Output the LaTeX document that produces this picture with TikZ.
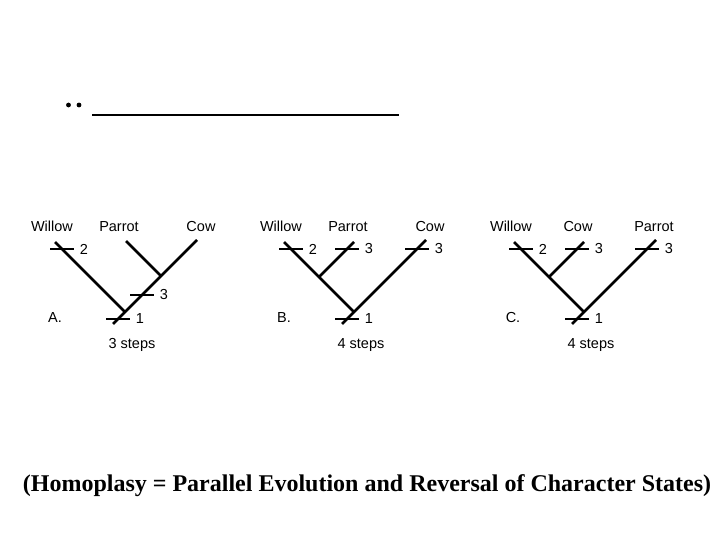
\documentclass[tikz,border=0pt]{standalone}
\usepackage{fontspec}
\setmainfont{Liberation Serif}
\setsansfont{Liberation Sans}

\def\sc{1pt}
\def\brw{2.7pt}
\def\tw{12pt}
\def\rightsh{229}
\def\sans{\sffamily\fontsize{14.5}{16}\selectfont}

\newcommand{\brtick}[2]{\draw [branch] ([xshift=-\tw]#1) -- ([xshift=\tw]#1) node [ticklab] {#2};}

\tikzset{
  branch/.style={line width=\brw},
  ticklab/.style={anchor=west, inner sep=0pt, xshift=4.5pt, font=\sans},
  taxon/.style={anchor=base, inner sep=0pt, font=\sans}
}

\begin{document}
\begin{tikzpicture} [x=\sc, y=-\sc]
\useasboundingbox (0,0) rectangle (720,540);
% heading
\fill (68.5,105) circle (2.4) (79,105) circle (2.4);
\draw [line width=2pt] (92,115) -- (399,115);
% tree A
\begin{scope}
  \coordinate (root) at (113,324);
  \coordinate (fork) at (125,312);
  \coordinate (willow) at (55,242);
  \coordinate (cow) at (197,240);
  \coordinate (mid) at (161,276);
  \coordinate (parrot) at (126,241);
  \draw [branch] (root) -- (cow);
  \draw [branch] (fork) -- (willow);
  \draw [branch] (mid) -- (parrot);
  \brtick{62,249}{2}
  \brtick{142,295}{3}
  \brtick{118,319}{1}
  \node [taxon] (tw) at (52,231) {Willow};
  \node [taxon] (tp) at (119,231) {Parrot};
  \node [taxon] (tc) at (201,231) {Cow};
  \node [taxon] (lab) at (55,322) {A.};
  \node [taxon] (steps) at (132,348) {3 steps};
\end{scope}
% tree B
\begin{scope} [shift={(\rightsh,0)}]
  \coordinate (root) at (113,324);
  \coordinate (fork) at (125,312);
  \coordinate (willow) at (55,242);
  \coordinate (cow) at (197,240);
  \coordinate (mid) at (90,277);
  \coordinate (parrot) at (125,242);
  \draw [branch] (root) -- (cow);
  \draw [branch] (fork) -- (willow);
  \draw [branch] (mid) -- (parrot);
  \brtick{62,249}{2}
  \brtick{118,249}{3}
  \brtick{188,249}{3}
  \brtick{118,319}{1}
  \node [taxon] (tw) at (52,231) {Willow};
  \node [taxon] (tp) at (119,231) {Parrot};
  \node [taxon] (tc) at (201,231) {Cow};
  \node [taxon] (lab) at (55,322) {B.};
  \node [taxon] (steps) at (132,348) {4 steps};
\end{scope}
% tree C
\begin{scope} [shift={(2*\rightsh+1,0)}]
  \coordinate (root) at (113,324);
  \coordinate (fork) at (125,312);
  \coordinate (willow) at (55,242);
  \coordinate (parrot) at (197,240);
  \coordinate (mid) at (90,277);
  \coordinate (cow) at (125,242);
  \draw [branch] (root) -- (parrot);
  \draw [branch] (fork) -- (willow);
  \draw [branch] (mid) -- (cow);
  \brtick{62,249}{2}
  \brtick{118,249}{3}
  \brtick{188,249}{3}
  \brtick{118,319}{1}
  \node [taxon] (tw) at (52,231) {Willow};
  \node [taxon] (tc) at (119,231) {Cow};
  \node [taxon] (tp) at (195,231) {Parrot};
  \node [taxon] (lab) at (54,322) {C.};
  \node [taxon] (steps) at (132,348) {4 steps};
\end{scope}
% caption
\node [anchor=base, inner sep=0pt, font=\bfseries\fontsize{24}{28}\selectfont] (cap) at (367,491)
  {(Homoplasy = Parallel Evolution and Reversal of Character States)};
\end{tikzpicture}
\end{document}
